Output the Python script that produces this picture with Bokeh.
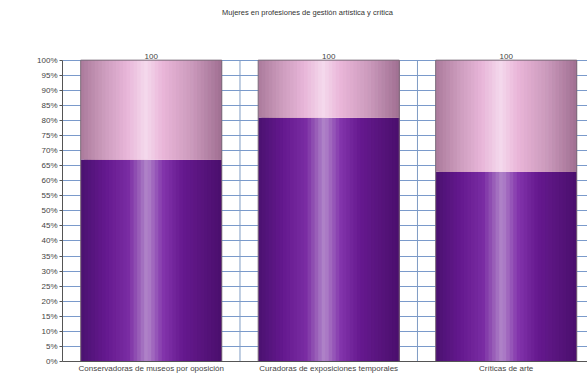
from bokeh.plotting import figure
from bokeh.models import Range1d, FixedTicker, PrintfTickFormatter, ColumnDataSource, LabelSet, Label
from bokeh.core.properties import value
from bokeh.embed import file_html
from bokeh.resources import INLINE

# ---- data ----
categories = ["Conservadoras de museos por oposición",
              "Curadoras de exposiciones temporales",
              "Críticas de arte"]
mujeres = [67, 81, 63]
totales = [100, 100, 100]
title_text = "Mujeres en profesiones de gestión artística y crítica"

# ---- styling helpers (cylinder-like gradient via stacked strips) ----
purple_stops = [(0.0, "#4a1270"), (0.18, "#65198f"), (0.34, "#7a2ca3"),
                (0.47, "#b186c9"), (0.58, "#8436ad"), (0.72, "#66198f"),
                (1.0, "#4a0f6c")]
pink_stops = [(0.0, "#ab7a9b"), (0.16, "#cb9bbc"), (0.33, "#e8b6d9"),
              (0.46, "#f4d9ec"), (0.58, "#eab6d9"), (0.78, "#cc9bbd"),
              (1.0, "#a06f92")]


def hex2rgb(h):
    h = h.lstrip("#")
    return tuple(int(h[i:i + 2], 16) for i in (0, 2, 4))


def interp(stops, t):
    for (t0, c0), (t1, c1) in zip(stops[:-1], stops[1:]):
        if t0 <= t <= t1:
            f = (t - t0) / (t1 - t0) if t1 > t0 else 0
            a, b = hex2rgb(c0), hex2rgb(c1)
            return "#%02x%02x%02x" % tuple(int(round(a[i] + (b[i] - a[i]) * f)) for i in range(3))
    return stops[-1][1]


BAR_W = 0.795
N = 40

xs, w_list, bot_hi, top_lo, top_hi, c_bot, c_top = [], [], [], [], [], [], []
for ci, (m, tot) in enumerate(zip(mujeres, totales)):
    center = ci + 0.5
    left = center - BAR_W / 2
    right = center + BAR_W / 2
    for k in range(N):
        lk = left + (k / N) * BAR_W
        xs.append((lk + right) / 2)
        w_list.append(right - lk)
        bot_hi.append(m)
        top_lo.append(m)
        top_hi.append(tot)
        tc = (k + 0.5) / N
        c_bot.append(interp(purple_stops, tc))
        c_top.append(interp(pink_stops, tc))

strips = ColumnDataSource(dict(x=xs, w=w_list, b1=bot_hi,
                               t0=top_lo, t1=top_hi, cb=c_bot, ct=c_top))

centers = [i + 0.5 for i in range(len(categories))]
bars = ColumnDataSource(dict(x=centers, m=mujeres, tot=totales,
                             lbl=[str(t) for t in totales]))
ymax = max(totales)
bounds = list(range(len(categories) + 1))
vgrid = ColumnDataSource(dict(x=bounds, y0=[0] * len(bounds), y1=[ymax] * len(bounds)))

FONT = "Liberation Sans"
W, H = 587, 375
LEFT_PAD = 62
FRAME_BOTTOM_PAD = 12
TOP_PX = 60  # pixel row of the 100% line
frame_h = H - FRAME_BOTTOM_PAD
y_end = ymax * frame_h / (frame_h - TOP_PX)

p = figure(width=W, height=H, output_backend="svg", toolbar_location=None,
           title=None,
           x_range=Range1d(0, 2.958), y_range=Range1d(0, y_end),
           min_border_left=LEFT_PAD, min_border_right=0, min_border_top=0,
           min_border_bottom=FRAME_BOTTOM_PAD, background_fill_color="white",
           border_fill_color="white")
p.outline_line_color = None

# vertical grid lines between categories (up to 100%)
p.segment(x0="x", x1="x", y0="y0", y1="y1", source=vgrid,
          line_color="#7f9cc4", line_width=1)

p.vbar(x="x", width="w", bottom=0, top="b1", source=strips,
       fill_color="cb", line_color=None)
p.vbar(x="x", width="w", bottom="t0", top="t1", source=strips,
       fill_color="ct", line_color=None)
p.vbar(x="x", width=BAR_W, bottom=0, top="tot", source=bars,
       fill_color=None, line_color="#7a6a78", line_width=1)

labels = LabelSet(x="x", y="tot", text="lbl", source=bars, text_align="center",
                  text_baseline="bottom", y_offset=1, text_font=value(FONT),
                  text_font_size=value("8px"), text_color=value("#444444"))
p.add_layout(labels)

# title (screen units are relative to the plot frame)
title = Label(x=307 - LEFT_PAD, y=frame_h - 14, x_units="screen", y_units="screen",
              text=title_text, text_align="center", text_baseline="middle",
              text_font=FONT, text_font_size="7.5px", text_color="#333333")
p.add_layout(title)

# horizontal grid
p.ygrid.ticker = FixedTicker(ticks=list(range(0, ymax + 1, 5)))
p.ygrid.grid_line_color = "#7a9acb"
p.ygrid.grid_line_width = 1
p.xgrid.grid_line_color = None

# y axis
p.yaxis.ticker = FixedTicker(ticks=list(range(0, ymax + 1, 5)))
p.yaxis.bounds = (0, ymax)
p.yaxis.formatter = PrintfTickFormatter(format="%d%%")
p.yaxis.axis_line_color = "#555555"
p.yaxis.major_tick_line_color = "#555555"
p.yaxis.major_tick_out = 3
p.yaxis.major_tick_in = 0
p.yaxis.minor_tick_line_color = None
p.yaxis.major_label_text_font = FONT
p.yaxis.major_label_text_font_size = "8px"
p.yaxis.major_label_text_color = "#444444"
p.yaxis.major_label_standoff = 2

# x axis
p.xaxis.ticker = FixedTicker(ticks=centers)
p.xaxis.major_label_overrides = {c: lab for c, lab in zip(centers, categories)}
p.xaxis.axis_line_color = "#555555"
p.xaxis.major_tick_line_color = None
p.xaxis.major_tick_out = 0
p.xaxis.major_tick_in = 0
p.xaxis.minor_tick_line_color = None
p.xaxis.major_label_text_font = FONT
p.xaxis.major_label_text_font_size = "8px"
p.xaxis.major_label_text_color = "#444444"
p.xaxis.major_label_standoff = 2

open("out.html", "w").write(file_html(p, INLINE))
